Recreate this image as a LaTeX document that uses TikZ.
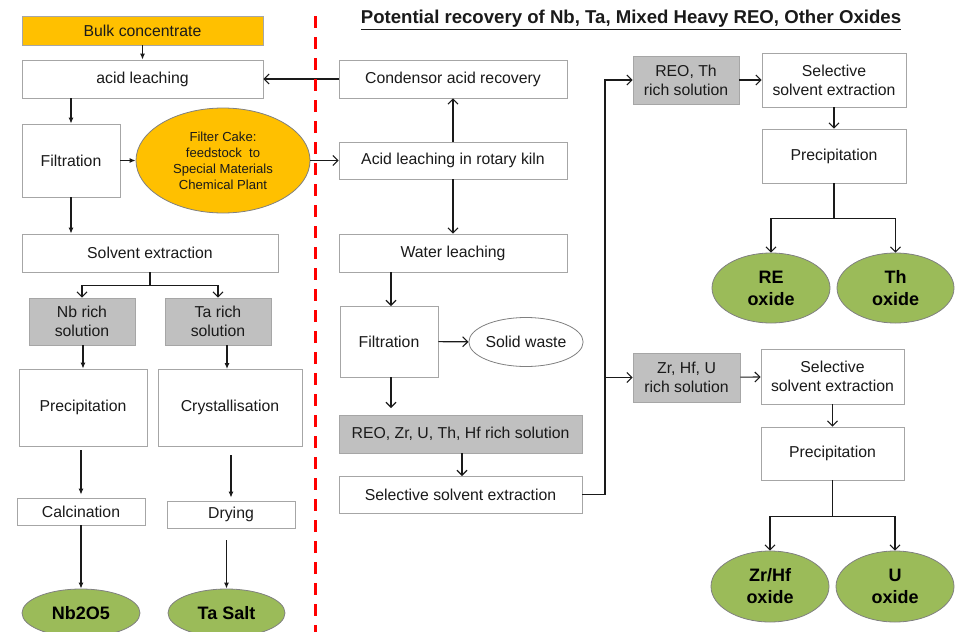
\documentclass[tikz,border=0pt]{standalone}
\usepackage{fontspec}
\setmainfont{Liberation Sans}
\usetikzlibrary{arrows.meta,shapes.geometric}
\definecolor{bulkorange}{HTML}{FFC000}
\definecolor{solgray}{HTML}{C0C0C0}
\definecolor{oxgreen}{HTML}{9BBB59}
\definecolor{boxline}{HTML}{A6A6A6}
\definecolor{txt}{HTML}{1A1A1A}
\tikzset{
  box/.style={draw=boxline,line width=0.8pt,fill=white,inner sep=0pt,align=center,text=txt,
    font=\fontsize{15.8}{19}\selectfont},
  solbox/.style={box,fill=solgray},
  bulkbox/.style={box,fill=bulkorange},
  cake/.style={ellipse,draw=gray,line width=0.8pt,fill=bulkorange,inner sep=0pt,align=center,text=txt,
    font=\fontsize{13.1}{16}\selectfont},
  waste/.style={ellipse,draw=gray,line width=0.8pt,fill=white,inner sep=0pt,align=center,text=txt,
    font=\fontsize{15.8}{19}\selectfont},
  oxide/.style={ellipse,draw=gray,line width=0.8pt,fill=oxgreen,inner sep=0pt,align=center,text=black,
    font=\bfseries\fontsize{18}{22}\selectfont},
  arrL/.style={line width=1.1pt,draw=txt,-{Latex[length=6pt,width=5pt]}},
  arrR/.style={line width=1.1pt,draw=txt,-{Straight Barb[length=5pt,width=10pt]}},
  link/.style={line width=1.1pt,draw=txt}
}
\begin{document}
\begin{tikzpicture}[x=1pt,y=-1pt]
\useasboundingbox (0,0) rectangle (959,632);

\node[font=\bfseries\fontsize{18.6}{22}\selectfont,text=txt] (title) at (631,20)
  {\underline{Potential recovery of Nb, Ta, Mixed Heavy REO, Other Oxides}};

\node[bulkbox,minimum width=241,minimum height=29] (bulk) at (142.5,30.5) {Bulk concentrate};
\node[box,minimum width=241,minimum height=38] (acid) at (142.5,79) {acid leaching};
\node[box,minimum width=98,minimum height=73] (filt) at (71,160.5) {Filtration};
\node[cake,minimum width=174,minimum height=105] (cake) at (223,160.5)
  {Filter Cake:\\feedstock\ \ to\\Special Materials\\Chemical Plant};
\node[box,minimum width=256,minimum height=38] (solv) at (150,253) {Solvent extraction};
\node[solbox,minimum width=106,minimum height=47] (nb) at (82,321.5) {Nb rich\\solution};
\node[solbox,minimum width=106,minimum height=47] (ta) at (218,321.5) {Ta rich\\solution};
\node[box,minimum width=128,minimum height=77] (precL) at (83,407.5) {Precipitation};
\node[box,minimum width=144,minimum height=77] (cryst) at (230,407.5) {Crystallisation};
\node[box,minimum width=128,minimum height=27] (calc) at (81,511.5) {Calcination};
\node[box,minimum width=128,minimum height=27] (dry) at (231,514.5) {Drying};
\node[oxide,minimum width=118,minimum height=48] (nbo) at (81,613) {Nb2O5};
\node[oxide,minimum width=117,minimum height=48] (tasalt) at (226.5,613) {Ta Salt};

\node[box,minimum width=228,minimum height=38] (cond) at (453,79) {Condensor acid recovery};
\node[box,minimum width=228,minimum height=37] (kiln) at (453,160.5) {Acid leaching in rotary kiln};
\node[box,minimum width=228,minimum height=38] (water) at (453,253) {Water leaching};
\node[box,minimum width=98,minimum height=71] (filt2) at (389,341.5) {Filtration};
\node[waste,minimum width=114,minimum height=49] (waste) at (526,342) {Solid waste};
\node[solbox,minimum width=243,minimum height=38] (reo) at (460.5,434) {REO, Zr, U, Th, Hf rich solution};
\node[box,minimum width=243,minimum height=37] (sel) at (460.5,494.5) {Selective solvent extraction};
\coordinate (bus) at (605,494.5);

\node[solbox,minimum width=106,minimum height=48] (reoth) at (686,80) {REO, Th\\rich solution};
\node[box,minimum width=144,minimum height=54] (sel1) at (834,80) {Selective\\solvent extraction};
\node[box,minimum width=144,minimum height=54] (prec1) at (834,156) {Precipitation};
\node[oxide,minimum width=118,minimum height=70] (reox) at (771,288) {RE\\oxide};
\node[oxide,minimum width=117,minimum height=70] (thox) at (895.5,288) {Th\\oxide};

\node[solbox,minimum width=107,minimum height=49] (zrhfu) at (686.5,377.5) {Zr, Hf, U\\rich solution};
\node[box,minimum width=143,minimum height=55] (sel2) at (832.5,376.5) {Selective\\solvent extraction};
\node[box,minimum width=143,minimum height=53] (prec2) at (832.5,453.5) {Precipitation};
\node[oxide,minimum width=118,minimum height=71] (zrox) at (770,586.5) {Zr/Hf\\oxide};
\node[oxide,minimum width=118,minimum height=71] (uox) at (895,586.5) {U\\oxide};

\draw[arrL] (bulk) -- (acid);
\draw[arrL] (acid.south -| filt) -- (filt.north);
\draw[arrL] (filt) -- (cake);
\draw[arrL] (filt) -- (filt.south |- solv.north);
\draw[arrR] (solv.south) -- ++(0,13) -| (nb.north);
\draw[arrR] (solv.south) -- ++(0,13) -| (ta.north);
\draw[arrL] (nb.south -| precL) -- (precL.north);
\draw[arrL] (ta.south -| 227,0) -- (227,369);
\draw[arrL,shorten <=4pt,shorten >=3pt] (precL.south -| calc) -- (calc.north);
\draw[arrL,shorten <=9pt,shorten >=3pt] (cryst.south -| dry) -- (dry.north);
\draw[arrL] (calc) -- (nbo);
\draw[arrL,shorten <=12pt] (dry.south -| tasalt) -- (tasalt.north);

\draw[arrR] (cond) -- (acid);
\draw[arrR] (cake) -- (kiln);
\draw[arrR] (kiln) -- (cond);
\draw[arrR] (kiln) -- (water);
\draw[arrR] (water.south -| 391,0) -- (391,306);
\draw[arrR] (filt2) -- (waste);
\draw[arrR,shorten >=7pt] (filt2.south -| 391,0) -- (391,415);
\draw[arrR] (reo.south -| 462,0) -- (462,476);
\draw[link] (sel) -- (bus);
\draw[arrR] (bus) |- (reoth);
\draw[arrR] (bus) |- (zrhfu);

\draw[arrR] (reoth) -- (sel1);
\draw[arrR] (sel1) -- (prec1);
\draw[arrR] (prec1.south) -- ++(0,35) -| (reox.north);
\draw[arrR] (prec1.south) -- ++(0,35) -| (thox.north);

\draw[arrR] (zrhfu) -- (sel2);
\draw[arrR] (sel2) -- (prec2);
\draw[arrR] (prec2.south) -- ++(0,36) -| (zrox.north);
\draw[arrR] (prec2.south) -- ++(0,36) -| (uox.north);

\draw[red,line width=3pt,dash pattern=on 12pt off 9pt] (315,16) -- (315,632);
\end{tikzpicture}
\end{document}
